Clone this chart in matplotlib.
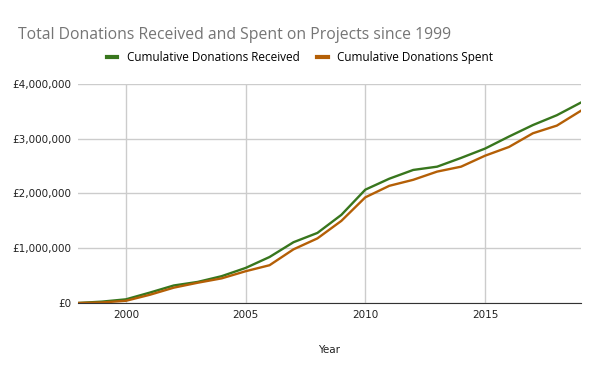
import matplotlib
matplotlib.use("Agg")
import matplotlib.pyplot as plt
from matplotlib.ticker import FuncFormatter

years = list(range(1998, 2020))
received = [0, 25000, 67000, 190000, 320000, 385000, 490000, 640000, 840000, 1110000,
            1280000, 1610000, 2070000, 2270000, 2430000, 2490000, 2650000, 2820000,
            3040000, 3250000, 3430000, 3660000]
spent = [0, 10000, 40000, 150000, 280000, 370000, 450000, 580000, 690000, 980000,
         1180000, 1500000, 1930000, 2140000, 2250000, 2400000, 2490000, 2690000,
         2850000, 3100000, 3240000, 3510000]
series_names = ["Cumulative Donations Received", "Cumulative Donations Spent"]
title = "Total Donations Received and Spent on Projects since 1999"

green = "#38761d"
orange = "#b45f06"

fig = plt.figure(figsize=(6, 3.71), dpi=100)
ax = fig.add_axes([0.13, 0.1833, 0.838, 0.5903])

ax.plot(years, received, color=green, lw=1.7, label=series_names[0])
ax.plot(years, spent, color=orange, lw=1.7, label=series_names[1])

ax.set_xlim(1998, 2019)
ax.set_ylim(0, 4000000)
ax.set_xticks([2000, 2005, 2010, 2015])
ax.set_yticks([0, 1000000, 2000000, 3000000, 4000000])
ax.yaxis.set_major_formatter(FuncFormatter(lambda v, p: "£{:,.0f}".format(v)))

ax.grid(True, color="#cccccc", lw=1)
ax.set_axisbelow(True)
for s in ["top", "right", "left"]:
    ax.spines[s].set_visible(False)
ax.spines["bottom"].set_color("#333333")
ax.tick_params(length=0, labelsize=7.5, colors="#222222", pad=5)

ax.set_xlabel("Year", fontsize=7.5, color="#222222", labelpad=18)

fig.text(0.03, 0.905, title, fontsize=11.3, color="#757575", family="Open Sans", va="center")
leg = fig.legend(loc="center", bbox_to_anchor=(0.5, 0.845), ncol=2, frameon=False,
                 prop={"family": "Open Sans", "size": 8.5}, handlelength=0.9,
                 columnspacing=1.5, handletextpad=0.8)
for h in leg.get_lines():
    h.set_linewidth(3)

fig.savefig("out.png", dpi=100)
